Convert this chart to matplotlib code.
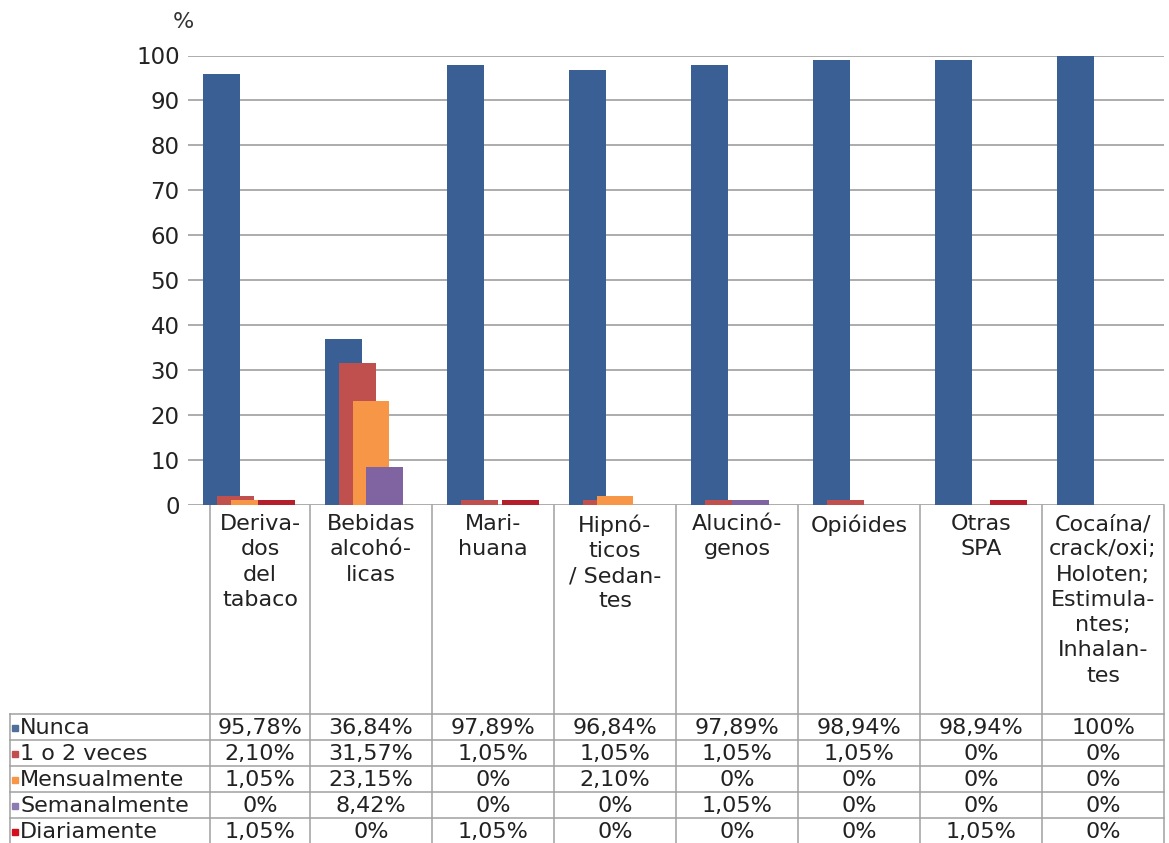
import matplotlib.pyplot as plt
import matplotlib.patches as patches

# --- data ---
categories = ["Deriva-\ndos\ndel\ntabaco", "Bebidas\nalcohó-\nlicas", "Mari-\nhuana",
              "Hipnó-\nticos\n/ Sedan-\ntes", "Alucinó-\ngenos", "Opióides", "Otras\nSPA",
              "Cocaína/\ncrack/oxi;\nHoloten;\nEstimula-\nntes;\nInhalan-\ntes"]
series_names = ["Nunca", "1 o 2 veces", "Mensualmente", "Semanalmente", "Diariamente"]
nunca = [95.78, 36.84, 97.89, 96.84, 97.89, 98.94, 98.94, 100]
una_dos = [2.10, 31.57, 1.05, 1.05, 1.05, 1.05, 0, 0]
mensual = [1.05, 23.15, 0, 2.10, 0, 0, 0, 0]
semanal = [0, 8.42, 0, 0, 1.05, 0, 0, 0]
diario = [1.05, 0, 1.05, 0, 0, 0, 1.05, 0]
yticks = list(range(0, 101, 10))

series = [nunca, una_dos, mensual, semanal, diario]
colors = ["#3A5F95", "#C0504D", "#F79646", "#8064A2", "#B41F2C"]
key_colors = ["#4F6F9A", "#C0504D", "#F79646", "#8C7BB0", "#D0101E"]


def fmt(v):
    if v == int(v):
        return f"{int(v)}%"
    return f"{v:.2f}".replace(".", ",") + "%"


W, H = 1169, 843
fig = plt.figure(figsize=(W / 100, H / 100), dpi=100)
plt.rcParams['font.family'] = ['DejaVu Sans']

# plot area in pixels
left, right, top, zero = 188, 1164, 55.5, 505
ax = fig.add_axes([left / W, (H - zero) / H, (right - left) / W, (zero - top) / H])

bw = 0.303
step = 0.111
for i, (vals, c) in enumerate(zip(series, colors)):
    xs = [k + (i - 2) * step for k in range(len(categories))]
    ax.bar(xs, vals, width=bw, color=c, zorder=3 + i, clip_on=False)

ax.set_xlim(-0.5, len(categories) - 0.5)
ax.set_ylim(0, 100)
ax.set_yticks(yticks)
ax.set_xticks([])
ax.tick_params(axis='y', length=0, pad=6, labelsize=16.5, labelcolor="#222222")
ax.grid(axis='y', color="#A6A6A6", linewidth=1.3, zorder=0)
for s in ax.spines.values():
    s.set_visible(False)
ax.set_facecolor("none")

fig.text(183 / W, 1 - 22 / H, "%", ha='center', va='center', fontsize=16, color="#333333")

# --- data table under the chart, in pixel coordinates ---
tab = fig.add_axes([0, 0, 1, 1], zorder=-1)
tab.set_xlim(0, W)
tab.set_ylim(H, 0)
tab.axis('off')

fig.canvas.draw()
edges = [210] + [ax.transData.transform((k + 0.5, 0))[0] for k in range(len(categories))]
line_c = "#A0A0A0"

for x in edges:
    tab.plot([x, x], [zero, H], color=line_c, lw=1.1)
row_top = 714
row_h = 26
tab.plot([10, 10], [row_top, H], color=line_c, lw=1.1)
for r in range(len(series_names)):
    y = row_top + r * row_h
    tab.plot([10, edges[-1]], [y, y], color=line_c, lw=1.1)

# category headers
for k, name in enumerate(categories):
    cx = (edges[k] + edges[k + 1]) / 2
    tab.text(cx, 514, name, ha='center', va='top', fontsize=16, linespacing=1.33,
             color="#222222")

# rows
for r, (name, vals) in enumerate(zip(series_names, series)):
    cy = row_top + r * row_h + row_h / 2 + 1
    tab.add_patch(patches.Rectangle((12, cy - 3), 6, 6, color=key_colors[r]))
    tab.text(20, cy, name, ha='left', va='center', fontsize=16, color="#222222")
    for k, v in enumerate(vals):
        cx = (edges[k] + edges[k + 1]) / 2
        tab.text(cx, cy, fmt(v), ha='center', va='center', fontsize=16, color="#222222")

fig.savefig("out.png", dpi=100)
